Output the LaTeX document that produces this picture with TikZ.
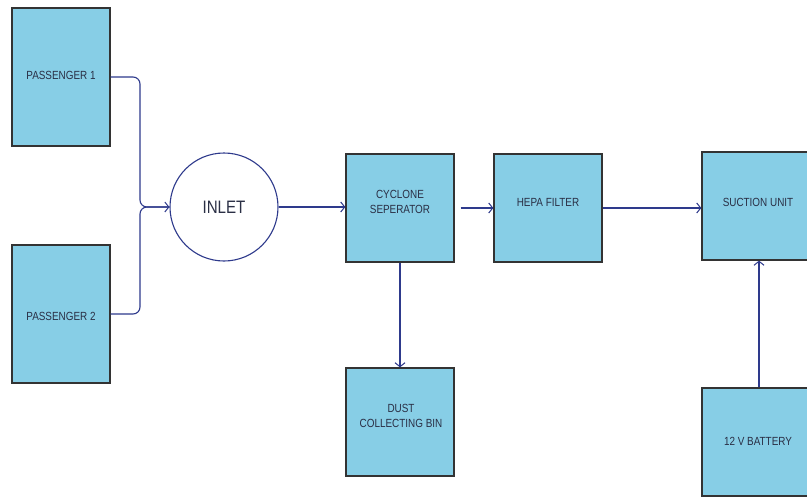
\documentclass[tikz,border=0pt]{standalone}
\usepackage{fontspec}
\setmainfont{Liberation Sans}[FakeStretch=0.84]
\usetikzlibrary{arrows.meta}
\definecolor{boxfill}{HTML}{87CEE6}
\definecolor{navy}{HTML}{2E3A8C}
\definecolor{boxline}{HTML}{333333}
\definecolor{txt}{HTML}{2A2F45}
\begin{document}
\begin{tikzpicture}[x=1pt,y=-1pt,
  blk/.style={draw=boxline,line width=1.3pt,fill=boxfill,minimum width=98pt,minimum height=138pt,inner sep=0pt},
  sq/.style={draw=boxline,line width=1.3pt,fill=boxfill,minimum width=108pt,minimum height=108pt,inner sep=0pt},
  lbl/.style={text=txt,font=\fontsize{11.8}{15.5}\selectfont,align=center,inner sep=0pt},
  conn/.style={draw=navy,line width=1.1pt},
  arr/.style={conn,-{Straight Barb[length=4pt,width=10pt,line width=1pt]}}]
\useasboundingbox (0,0) rectangle (807,498);
\fill[white] (0,0) rectangle (807,498);
\node[blk] (p1) at (61,77) {};
\node[lbl] (p1t) at (61,75) {PASSENGER 1};
\node[blk] (p2) at (61,314) {};
\node[lbl] (p2t) at (61,316) {PASSENGER 2};
\node[circle,draw=navy,line width=1.1pt,minimum size=108pt,inner sep=0pt,font=\fontsize{18}{20}\selectfont,text=txt] (inlet) at (224,207) {INLET};
\node[sq] (cyc) at (400,208) {};
\node[lbl] (cyct) at (400,202) {CYCLONE\\SEPERATOR};
\node[sq] (hepa) at (548,208) {};
\node[lbl] (hepat) at (548,202) {HEPA FILTER};
\node[sq] (suc) at (756,206) {};
\node[lbl] (suct) at (758,202) {SUCTION UNIT};
\node[sq] (dust) at (400,422) {};
\node[lbl] (dustt) at (401,416) {DUST\\COLLECTING BIN};
\node[sq] (bat) at (756,442) {};
\node[lbl] (batt) at (758,441) {12 V BATTERY};
\draw[conn,rounded corners=7pt] (p1.east) -- (p1.east -| 140,0) -- (140,207) -- (inlet.west);
\draw[arr,rounded corners=7pt] (p2.east) -- (p2.east -| 140,0) -- (140,207) -- (inlet.west);
\draw[arr] (inlet.east) -- (inlet.east -| cyc.west);
\draw[arr,shorten <=6pt] (cyc.east) -- (hepa.west);
\draw[arr] (hepa.east) -- (suc.west |- hepa.east);
\draw[arr] (cyc.south) -- (dust.north);
\draw[arr] (bat.north -| 759,0) -- (suc.south -| 759,0);
\end{tikzpicture}
\end{document}
